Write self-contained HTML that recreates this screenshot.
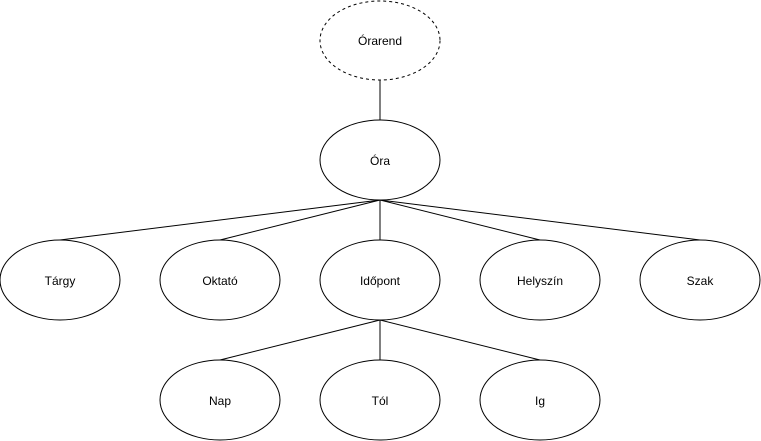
<!DOCTYPE html>
<html><head><meta charset="utf-8"><style>html,body{margin:0;padding:0;background:#fff}</style></head>
<body>
<svg width="761" height="441" xmlns="http://www.w3.org/2000/svg" style="display:block">
<g stroke="#000" stroke-width="1" fill="none">
<line x1="380" y1="80" x2="380" y2="120"/>
<line x1="380" y1="200" x2="60" y2="240"/>
<line x1="380" y1="200" x2="220" y2="240"/>
<line x1="380" y1="200" x2="380" y2="240"/>
<line x1="380" y1="200" x2="540" y2="240"/>
<line x1="380" y1="200" x2="700" y2="240"/>
<line x1="380" y1="320" x2="220" y2="360"/>
<line x1="380" y1="320" x2="380" y2="360"/>
<line x1="380" y1="320" x2="540" y2="360"/>
</g>
<g stroke="#000" stroke-width="1" fill="#fff">
<ellipse cx="380" cy="40.5" rx="60" ry="39.5" stroke-dasharray="3 3"/>
<ellipse cx="380" cy="160" rx="60" ry="40"/>
<ellipse cx="60" cy="280" rx="60" ry="40"/>
<ellipse cx="220" cy="280" rx="60" ry="40"/>
<ellipse cx="380" cy="280" rx="60" ry="40"/>
<ellipse cx="540" cy="280" rx="60" ry="40"/>
<ellipse cx="700" cy="280" rx="60" ry="40"/>
<ellipse cx="220" cy="400" rx="60" ry="40"/>
<ellipse cx="380" cy="400" rx="60" ry="40"/>
<ellipse cx="540" cy="400" rx="60" ry="40"/>
</g>
<g font-family="Liberation Sans, sans-serif" font-size="12" text-anchor="middle" fill="#000">
<text x="380" y="45">Órarend</text>
<text x="380" y="165">Óra</text>
<text x="60" y="285">Tárgy</text>
<text x="220" y="285">Oktató</text>
<text x="380" y="285">Időpont</text>
<text x="540" y="285">Helyszín</text>
<text x="700" y="285">Szak</text>
<text x="220" y="405">Nap</text>
<text x="380" y="405">Tól</text>
<text x="540" y="405">Ig</text>
</g>
</svg>
</body></html>
